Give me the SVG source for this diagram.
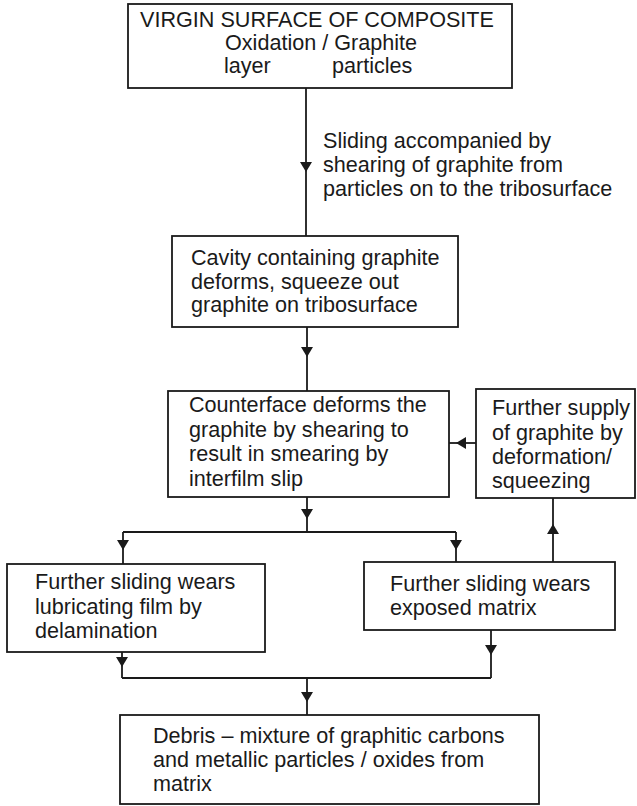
<svg xmlns="http://www.w3.org/2000/svg" width="637" height="806" viewBox="0 0 637 806">
<style>
.box{fill:#fff;stroke:#1a1a1a;stroke-width:1.8}
.t{font-family:"Liberation Sans",Arial,sans-serif;font-size:21.6px;fill:#1a1a1a}
.c{fill:none;stroke:#1a1a1a;stroke-width:1.8}
</style>
<defs>
<marker id="ah" markerUnits="userSpaceOnUse" markerWidth="10" markerHeight="12" viewBox="0 0 10 12" refX="10" refY="6" orient="auto">
<path d="M0,0 L10,6 L0,12 Z" fill="#1a1a1a"/>
</marker>
</defs>
<rect width="637" height="806" fill="#fff"/>
<g id="connectors">
<path class="c" d="M306 88 L306 172 L306 236" marker-mid="url(#ah)"/>
<path class="c" d="M307 327 L307 357 L307 391" marker-mid="url(#ah)"/>
<path class="c" d="M476 443 L456 443 L449 443" marker-mid="url(#ah)"/>
<path class="c" d="M307 497 L307 519 L307 532"  marker-mid="url(#ah)"/>
<path class="c" d="M123 532 L456 532"/>
<path class="c" d="M123 532 L123 550 L123 564" marker-mid="url(#ah)"/>
<path class="c" d="M456 532 L456 550 L456 562" marker-mid="url(#ah)"/>
<path class="c" d="M553 562 L553 524 L553 498" marker-mid="url(#ah)"/>
<path class="c" d="M122 652 L122 667 L122 678" marker-mid="url(#ah)"/>
<path class="c" d="M491 630 L491 655 L491 678" marker-mid="url(#ah)"/>
<path class="c" d="M122 678 L491 678"/>
<path class="c" d="M307 678 L307 702 L307 715" marker-mid="url(#ah)"/>
</g>
<g id="virgin">
<rect class="box" x="128" y="4" width="384" height="84"/>
<text class="t" x="140" y="27">VIRGIN SURFACE OF COMPOSITE</text>
<text class="t" x="225" y="50">Oxidation / Graphite</text>
<text class="t" x="224" y="73">layer</text>
<text class="t" x="332" y="73">particles</text>
</g>
<g id="edge-label">
<text class="t" x="323" y="148">Sliding accompanied by</text>
<text class="t" x="323" y="172">shearing of graphite from</text>
<text class="t" x="323" y="196">particles on to the tribosurface</text>
</g>
<g id="cavity">
<rect class="box" x="172" y="236" width="286" height="91"/>
<text class="t" x="191" y="265">Cavity containing graphite</text>
<text class="t" x="191" y="288.5">deforms, squeeze out</text>
<text class="t" x="191" y="312">graphite on tribosurface</text>
</g>
<g id="counterface">
<rect class="box" x="168" y="391" width="281" height="106"/>
<text class="t" x="189" y="412">Counterface deforms the</text>
<text class="t" x="189" y="436.5">graphite by shearing to</text>
<text class="t" x="189" y="461">result in smearing by</text>
<text class="t" x="189" y="485.5">interfilm slip</text>
</g>
<g id="supply">
<rect class="box" x="476" y="389" width="159" height="109"/>
<text class="t" x="492" y="415">Further supply</text>
<text class="t" x="492" y="439.5">of graphite by</text>
<text class="t" x="492" y="464">deformation/</text>
<text class="t" x="492" y="488">squeezing</text>
</g>
<g id="delamination">
<rect class="box" x="7" y="564" width="258" height="88"/>
<text class="t" x="35" y="589">Further sliding wears</text>
<text class="t" x="35" y="613.5">lubricating film by</text>
<text class="t" x="35" y="638">delamination</text>
</g>
<g id="matrix">
<rect class="box" x="364" y="562" width="251" height="68"/>
<text class="t" x="390" y="591">Further sliding wears</text>
<text class="t" x="390" y="615">exposed matrix</text>
</g>
<g id="debris">
<rect class="box" x="120" y="715" width="419" height="89"/>
<text class="t" x="153" y="743">Debris – mixture of graphitic carbons</text>
<text class="t" x="153" y="767">and metallic particles / oxides from</text>
<text class="t" x="153" y="791">matrix</text>
</g>
</svg>
